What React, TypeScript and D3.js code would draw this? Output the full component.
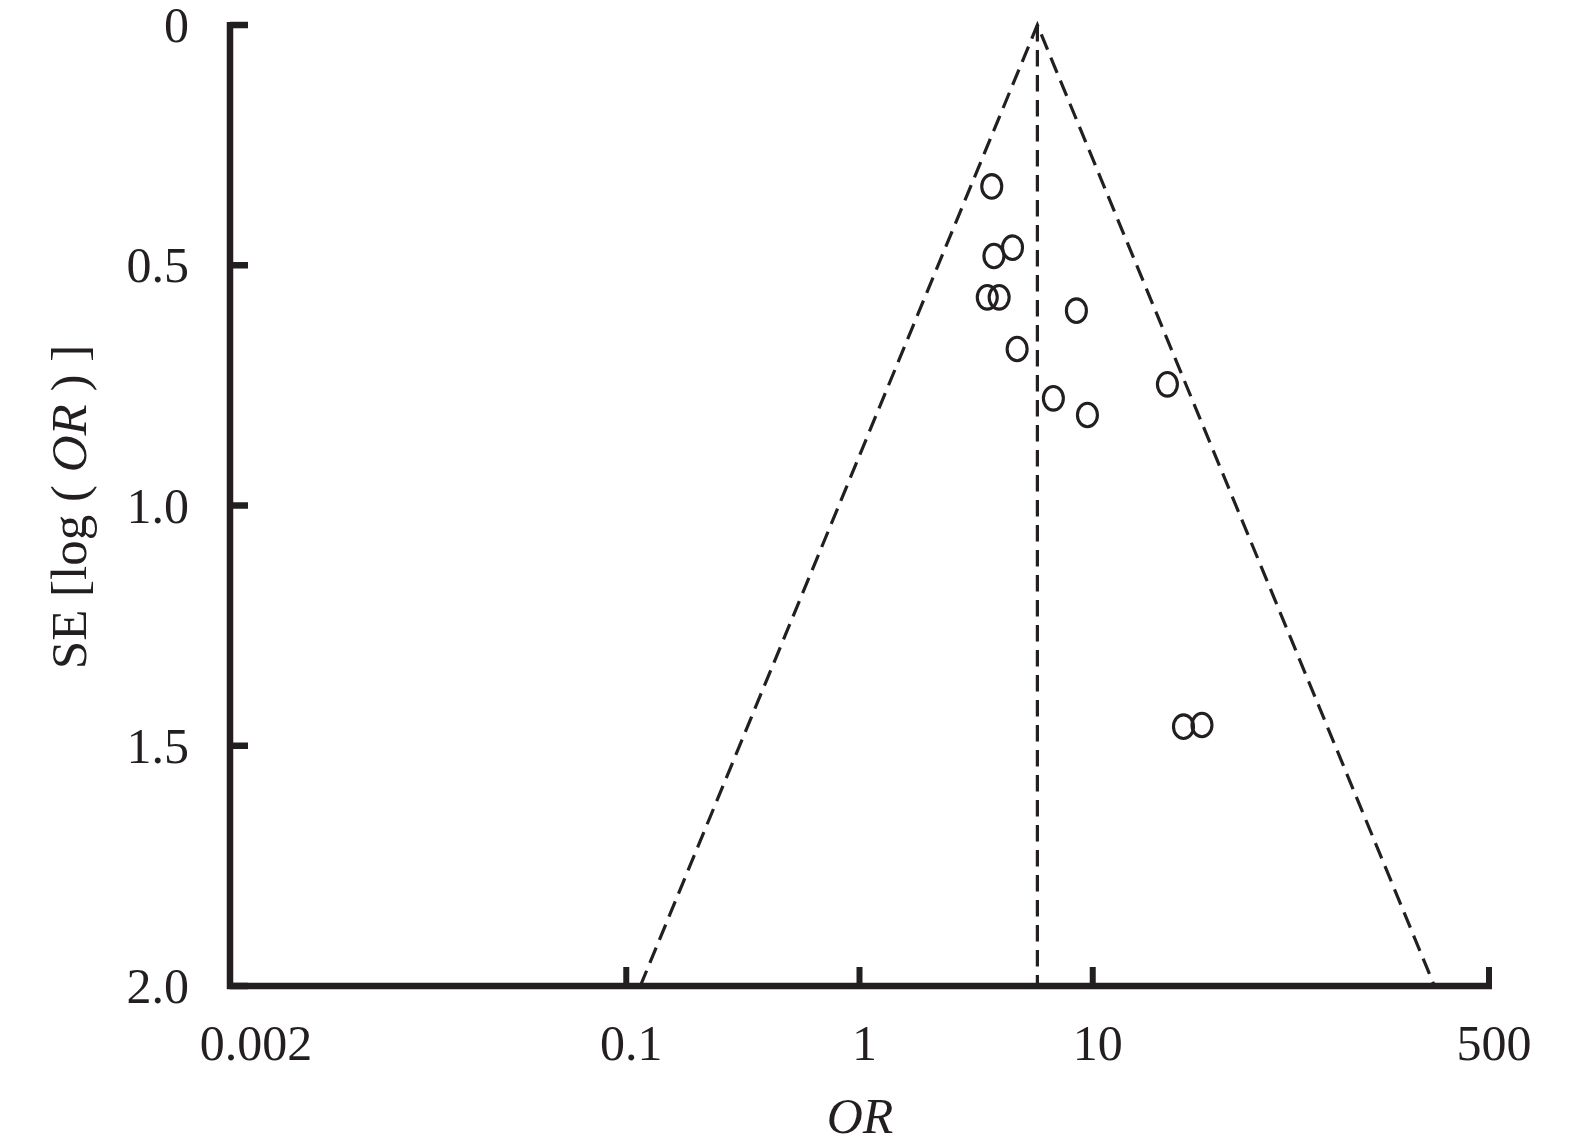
import React from "react";
import * as d3 from "d3";

const studyOR = [3.69, 4.53, 3.77, 3.53, 3.97, 8.51, 4.74, 6.78, 9.49, 20.9, 24.5, 29.4];
const studySE = [0.336, 0.4635, 0.4808, 0.5667, 0.5667, 0.5946, 0.6743, 0.7769, 0.8117, 0.7478, 1.4603, 1.4568];
const pooledOR = 5.79;
const xTicks = [0.002, 0.1, 1, 10, 500];
const xTickLabels = ["0.002", "0.1", "1", "10", "500"];
const yTicks = [0, 0.5, 1.0, 1.5, 2.0];
const yTickLabels = ["0", "0.5", "1.0", "1.5", "2.0"];

const W = 1575;
const H = 1143;
const INK = "#231f20";
const FONT = "'Liberation Serif', 'DejaVu Serif', serif";

export default function App() {
  const x = d3.scaleLog().domain([0.002, 500]).range([230, 1489]);
  const y = d3.scaleLinear().domain([0, 2]).range([25, 986]);
  const seMax = 2;
  const lnP = Math.log(pooledOR);
  const funnel = d3
    .line<[number, number]>()
    .x((d) => x(d[0]))
    .y((d) => y(d[1]));
  const funnelPts: [number, number][] = [
    [Math.exp(lnP - 1.96 * seMax), seMax],
    [pooledOR, 0],
    [Math.exp(lnP + 1.96 * seMax), seMax],
  ];
  return (
    <svg
      width={W}
      height={H}
      style={{ position: "absolute", left: 0, top: 0, background: "#fff" }}
      fontFamily={FONT}
    >
      {/* funnel lines */}
      <path d={funnel(funnelPts) || ""} fill="none" stroke={INK} strokeWidth={3.2} strokeDasharray="16.5 8.5" />
      <line
        x1={x(pooledOR)}
        x2={x(pooledOR)}
        y1={y(0)}
        y2={y(seMax)}
        stroke={INK}
        strokeWidth={3.2}
        strokeDasharray="16.5 8.5"
      />
      {/* axes */}
      <line x1={230} x2={230} y1={22} y2={989} stroke={INK} strokeWidth={6.5} />
      <line x1={227} x2={1492} y1={986} y2={986} stroke={INK} strokeWidth={6.5} />
      {yTicks.map((t, i) => (
        <g key={"y" + i}>
          <line x1={230} x2={248} y1={y(t)} y2={y(t)} stroke={INK} strokeWidth={6.5} />
          <text x={189} y={y(t) + 17} textAnchor="end" fontSize={50} fill={INK}>
            {yTickLabels[i]}
          </text>
        </g>
      ))}
      {xTicks.map((t, i) => (
        <g key={"x" + i}>
          <line x1={x(t)} x2={x(t)} y1={986} y2={967} stroke={INK} strokeWidth={6} />
          <text
            x={i === 0 ? x(t) + 26 : x(t) + 5}
            y={1060}
            textAnchor="middle"
            fontSize={50}
            fill={INK}
          >
            {xTickLabels[i]}
          </text>
        </g>
      ))}
      {/* points */}
      {studyOR.map((o, i) => (
        <ellipse
          key={"p" + i}
          cx={x(o)}
          cy={y(studySE[i])}
          rx={10}
          ry={11.8}
          fill="none"
          stroke={INK}
          strokeWidth={3.1}
        />
      ))}
      {/* axis labels */}
      <text x={860} y={1133} textAnchor="middle" fontSize={50} fontStyle="italic" fill={INK}>
        OR
      </text>
      <text
        transform="translate(86,507) rotate(-90)"
        textAnchor="middle"
        fontSize={51}
        fill={INK}
        xmlSpace="preserve"
      >
        SE [log ( <tspan fontStyle="italic">OR</tspan> ) ]
      </text>
    </svg>
  );
}
